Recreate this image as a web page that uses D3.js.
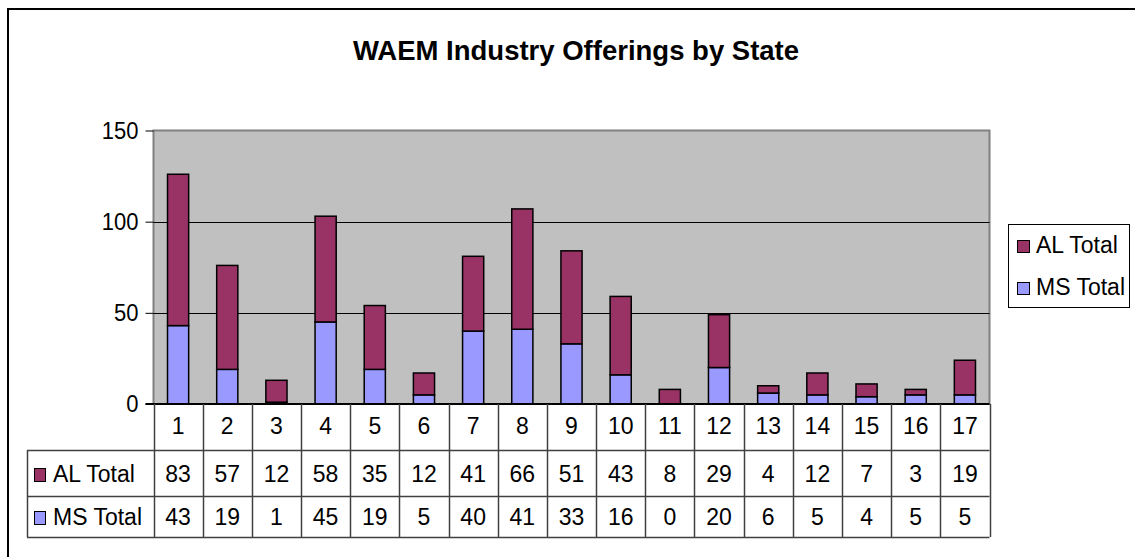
<!DOCTYPE html>
<html>
<head>
<meta charset="utf-8">
<script src="https://cdn.jsdelivr.net/npm/d3@7"></script>
<style>
  body { margin: 0; background: white; }
  svg { display: block; font-family: "Liberation Sans", Arial, sans-serif; }
</style>
</head>
<body>
<svg id="chart" width="1135" height="557"></svg>
<script>
// Data.
let states = ["1","2","3","4","5","6","7","8","9","10","11","12","13","14","15","16","17"];
let alTotal = [83,57,12,58,35,12,41,66,51,43,8,29,4,12,7,3,19];
let msTotal = [43,19,1,45,19,5,40,41,33,16,0,20,6,5,4,5,5];
let seriesNames = ["MS Total", "AL Total"];
let seriesColors = {"MS Total": "#9999ff", "AL Total": "#993366"};
let yTicks = [0, 50, 100, 150];

let svg = d3.select("#chart");

// The original text is a bit taller than plain Arial, stretch it vertically.
let stretch = 1.08;
function label(parent, xpos, ypos, txt, anchor, size){
	return parent.append("text")
	  .attr("transform", `translate(${xpos},${ypos}) scale(1,${stretch})`)
	  .attr("text-anchor", anchor || "start")
	  .attr("font-size", size || 23)
	  .attr("fill", "black")
	  .text(txt);
} // label

// Outer chart frame (right and bottom edges fall outside the picture).
svg.append("rect")
  .attr("x", 8).attr("y", 9)
  .attr("width", 1140).attr("height", 560)
  .attr("fill", "white")
  .attr("stroke", "black")
  .attr("stroke-width", 2);

// Title
svg.append("text")
  .attr("x", 576).attr("y", 60)
  .attr("text-anchor", "middle")
  .attr("font-size", 27.5)
  .attr("font-weight", "bold")
  .text("WAEM Industry Offerings by State");

// Plot area
let plot = {left: 153.5, right: 989.5, top: 130.5, bottom: 404};

let x = d3.scaleBand()
  .domain(states)
  .range([plot.left, plot.right]);

let y = d3.scaleLinear()
  .domain([0, 150])
  .range([plot.bottom, plot.top]);

svg.append("rect")
  .attr("x", plot.left).attr("y", plot.top)
  .attr("width", plot.right - plot.left)
  .attr("height", plot.bottom - plot.top)
  .attr("fill", "#c0c0c0")
  .attr("stroke", "#808080")
  .attr("stroke-width", 2);

// gridlines
svg.append("g")
  .selectAll("line")
  .data(yTicks.filter(v => v > 0 && v < 150))
  .enter().append("line")
    .attr("x1", plot.left).attr("x2", plot.right)
    .attr("y1", d => Math.round(y(d)) + 0.5).attr("y2", d => Math.round(y(d)) + 0.5)
    .attr("stroke", "black");

// stacked bars
let rows = states.map((s, i) => ({state: s, "MS Total": msTotal[i], "AL Total": alTotal[i]}));
let stack = d3.stack().keys(seriesNames)(rows);
let barW = x.bandwidth() * 0.43;

svg.append("g")
  .selectAll("g")
  .data(stack)
  .enter().append("g")
    .attr("fill", d => seriesColors[d.key])
  .selectAll("rect")
  .data(d => d.filter(p => p[1] - p[0] > 0))
  .enter().append("rect")
    .attr("x", d => x(d.data.state) + (x.bandwidth() - barW) / 2)
    .attr("width", barW)
    .attr("y", d => y(d[1]))
    .attr("height", d => y(d[0]) - y(d[1]))
    .attr("stroke", "black")
    .attr("stroke-width", 1.5);

// y axis: tick marks from d3, labels stretched like the rest
let yAxis = d3.axisLeft(y)
  .tickValues(yTicks)
  .tickSize(8)
  .tickFormat("");

let ga = svg.append("g")
  .attr("transform", `translate(${plot.left},0)`)
  .call(yAxis);
ga.select(".domain").remove();
ga.selectAll(".tick line").attr("stroke", "black");

yTicks.forEach(v => {
	label(svg, plot.left - 15, y(v) + 8, v, "end", 22);
});

// zero axis line
svg.append("line")
  .attr("x1", plot.left - 8).attr("x2", plot.right)
  .attr("y1", plot.bottom).attr("y2", plot.bottom)
  .attr("stroke", "black")
  .attr("stroke-width", 2);

// Data table below the axis
let table = {left: 27, rowBottoms: [450, 496, 537]};
let tableLine = "#404040";

let gt = svg.append("g");

// vertical separators
gt.selectAll("line.v")
  .data(states.map(s => x(s)).concat([plot.right]))
  .enter().append("line")
    .attr("class", "v")
    .attr("x1", d => Math.round(d) + 0.5).attr("x2", d => Math.round(d) + 0.5)
    .attr("y1", plot.bottom).attr("y2", table.rowBottoms[2])
    .attr("stroke", tableLine)
    .attr("stroke-width", 1.5);

gt.append("line")
  .attr("x1", table.left + 0.5).attr("x2", table.left + 0.5)
  .attr("y1", table.rowBottoms[0]).attr("y2", table.rowBottoms[2])
  .attr("stroke", tableLine)
  .attr("stroke-width", 1.5);

gt.selectAll("line.h")
  .data(table.rowBottoms)
  .enter().append("line")
    .attr("class", "h")
    .attr("x1", table.left).attr("x2", plot.right)
    .attr("y1", d => d + 0.5).attr("y2", d => d + 0.5)
    .attr("stroke", tableLine)
    .attr("stroke-width", 1.5);

// header row: state numbers
states.forEach(s => {
	label(gt, x(s) + x.bandwidth() / 2, 434, s, "middle");
});

let tableRows = [
  {name: "AL Total", values: alTotal, baseline: 482},
  {name: "MS Total", values: msTotal, baseline: 525}
];

tableRows.forEach(r => {
	r.values.forEach((v, i) => {
		label(gt, x(states[i]) + x.bandwidth() / 2, r.baseline, v, "middle");
	});

	gt.append("rect")
	  .attr("x", 34.5).attr("y", r.baseline - 13.5)
	  .attr("width", 11).attr("height", 13)
	  .attr("fill", seriesColors[r.name])
	  .attr("stroke", "black");

	label(gt, 53, r.baseline, r.name);
});

// Legend
let legend = svg.append("g");
legend.append("rect")
  .attr("x", 1008.5).attr("y", 224.5)
  .attr("width", 121).attr("height", 83)
  .attr("fill", "white")
  .attr("stroke", "black");

let legendItems = [
  {name: "AL Total", baseline: 253},
  {name: "MS Total", baseline: 295}
];

legendItems.forEach(d => {
	legend.append("rect")
	  .attr("x", 1017.5).attr("y", d.baseline - 12.5)
	  .attr("width", 12).attr("height", 12)
	  .attr("fill", seriesColors[d.name])
	  .attr("stroke", "black");

	label(legend, 1036, d.baseline, d.name);
});
</script>
</body>
</html>
